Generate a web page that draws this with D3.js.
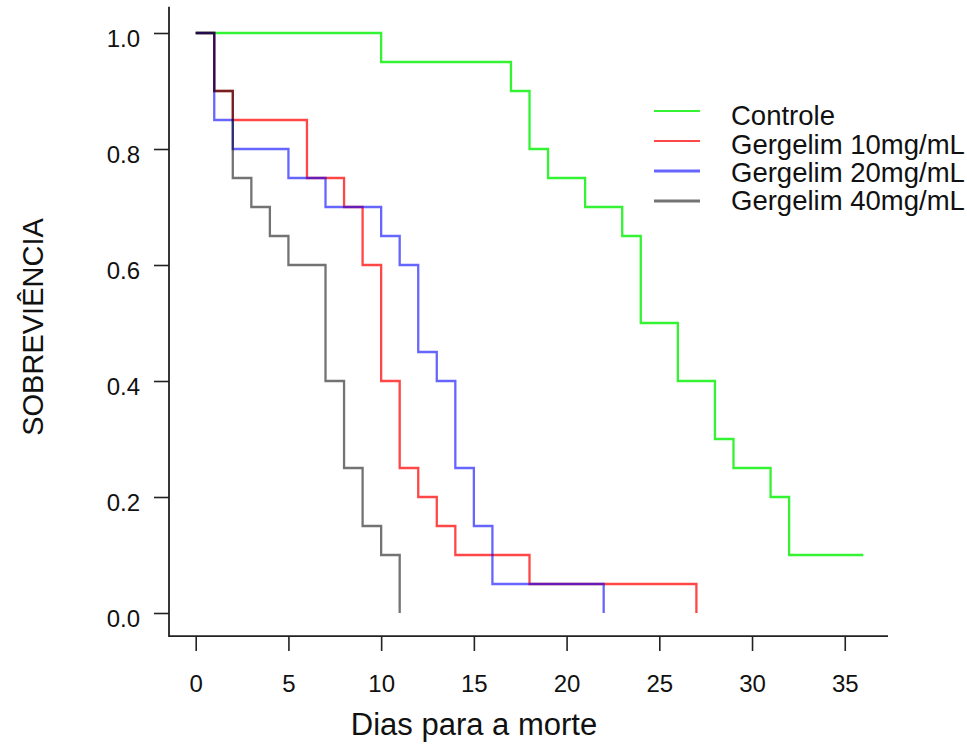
<!DOCTYPE html>
<html>
<head>
<meta charset="utf-8">
<script src="https://cdn.jsdelivr.net/npm/d3@7"></script>
<style>
  html, body { margin: 0; padding: 0; background: #fff; }
  svg text { font-family: "Liberation Sans", Arial, sans-serif; fill: #111; }
</style>
</head>
<body>
<svg id="chart" width="967" height="744"></svg>
<script>
// ---- data ----
const seriesNames = ["Controle", "Gergelim 10mg/mL", "Gergelim 20mg/mL", "Gergelim 40mg/mL"];
const controleDays = [0, 10, 17, 18, 19, 21, 23, 24, 26, 28, 29, 31, 32, 36];
const controleSurv = [1, 0.95, 0.9, 0.8, 0.75, 0.7, 0.65, 0.5, 0.4, 0.3, 0.25, 0.2, 0.1, 0.1];
const g10Days = [0, 1, 2, 6, 8, 9, 10, 11, 12, 13, 14, 18, 27];
const g10Surv = [1, 0.9, 0.85, 0.75, 0.7, 0.6, 0.4, 0.25, 0.2, 0.15, 0.1, 0.05, 0];
const g20Days = [0, 1, 2, 5, 7, 10, 11, 12, 13, 14, 15, 16, 22];
const g20Surv = [1, 0.85, 0.8, 0.75, 0.7, 0.65, 0.6, 0.45, 0.4, 0.25, 0.15, 0.05, 0];
const g40Days = [0, 1, 2, 3, 4, 5, 7, 8, 9, 10, 11];
const g40Surv = [1, 0.9, 0.75, 0.7, 0.65, 0.6, 0.4, 0.25, 0.15, 0.1, 0];
const xTicks = [0, 5, 10, 15, 20, 25, 30, 35];
const yTicks = [0, 0.2, 0.4, 0.6, 0.8, 1.0];
const xTitle = "Dias para a morte";
const yTitle = "SOBREVIÊNCIA";

const seriesDays = [controleDays, g10Days, g20Days, g40Days];
const seriesSurv = [controleSurv, g10Surv, g20Surv, g40Surv];
const colors = ["rgba(0,240,0,0.8)", "rgba(255,0,0,0.72)", "rgba(0,0,255,0.6)", "rgba(0,0,0,0.55)"];
const legendWidths = [1.8, 1.8, 3, 3];

// ---- scales ----
const svg = d3.select("#chart");
const x = d3.scaleLinear().domain([-1.44, 37.44]).range([169, 890]);
const y = d3.scaleLinear().domain([-0.04, 1.04]).range([636.2, 9.8]);

// ---- axes ----
const axisColor = "#222";
const xAxis = svg.append("g").attr("transform", "translate(0,636)")
  .call(d3.axisBottom(x).tickValues(xTicks).tickSize(15).tickSizeOuter(0).tickFormat(d3.format("d")));
xAxis.select(".domain").remove();
xAxis.selectAll(".tick line").attr("stroke", axisColor).attr("stroke-width", 1.6);
xAxis.selectAll(".tick text").attr("y", 56).attr("dy", 0).attr("font-size", 24)
  .style("font-family", "'Liberation Sans', Arial, sans-serif").attr("fill", "#111");

const yAxis = svg.append("g").attr("transform", "translate(169,0)")
  .call(d3.axisLeft(y).tickValues(yTicks).tickSize(15).tickSizeOuter(0).tickFormat(d3.format(".1f")));
yAxis.select(".domain").remove();
yAxis.selectAll(".tick line").attr("stroke", axisColor).attr("stroke-width", 1.6);
yAxis.selectAll(".tick text").attr("x", -29).attr("dy", 13).attr("font-size", 24)
  .style("font-family", "'Liberation Sans', Arial, sans-serif").attr("fill", "#111");

// L-shaped frame
svg.append("path")
  .attr("d", d3.line()([[x.range()[0], y.range()[1] - 3], [x.range()[0], y.range()[0]], [x.range()[1] - 2, y.range()[0]]]))
  .attr("fill", "none").attr("stroke", axisColor).attr("stroke-width", 1.8);

// ---- survival curves ----
const line = d3.line().x(d => x(d[0])).y(d => y(d[1])).curve(d3.curveStepAfter);
seriesNames.forEach((name, i) => {
  const pts = seriesDays[i].map((t, k) => [t, seriesSurv[i][k]]);
  svg.append("path")
    .datum(pts)
    .attr("d", line)
    .attr("fill", "none")
    .attr("stroke", colors[i])
    .attr("stroke-width", 2.3);
});

// ---- titles ----
svg.append("text").attr("x", 474).attr("y", 735).attr("text-anchor", "middle")
  .attr("font-size", 31).text(xTitle);
svg.append("text").attr("transform", "translate(43,327) rotate(-90)").attr("text-anchor", "middle")
  .attr("font-size", 29).text(yTitle);

// ---- legend ----
const legY = [111, 141, 171, 201];
const legTextY = [125, 154, 182, 210];
const leg = svg.append("g");
seriesNames.forEach((name, i) => {
  leg.append("line").attr("x1", 654).attr("x2", 700).attr("y1", legY[i]).attr("y2", legY[i])
    .attr("stroke", colors[i]).attr("stroke-width", legendWidths[i]);
  leg.append("text").attr("x", 731).attr("y", legTextY[i]).attr("font-size", 27.5).text(name);
});
</script>
</body>
</html>
